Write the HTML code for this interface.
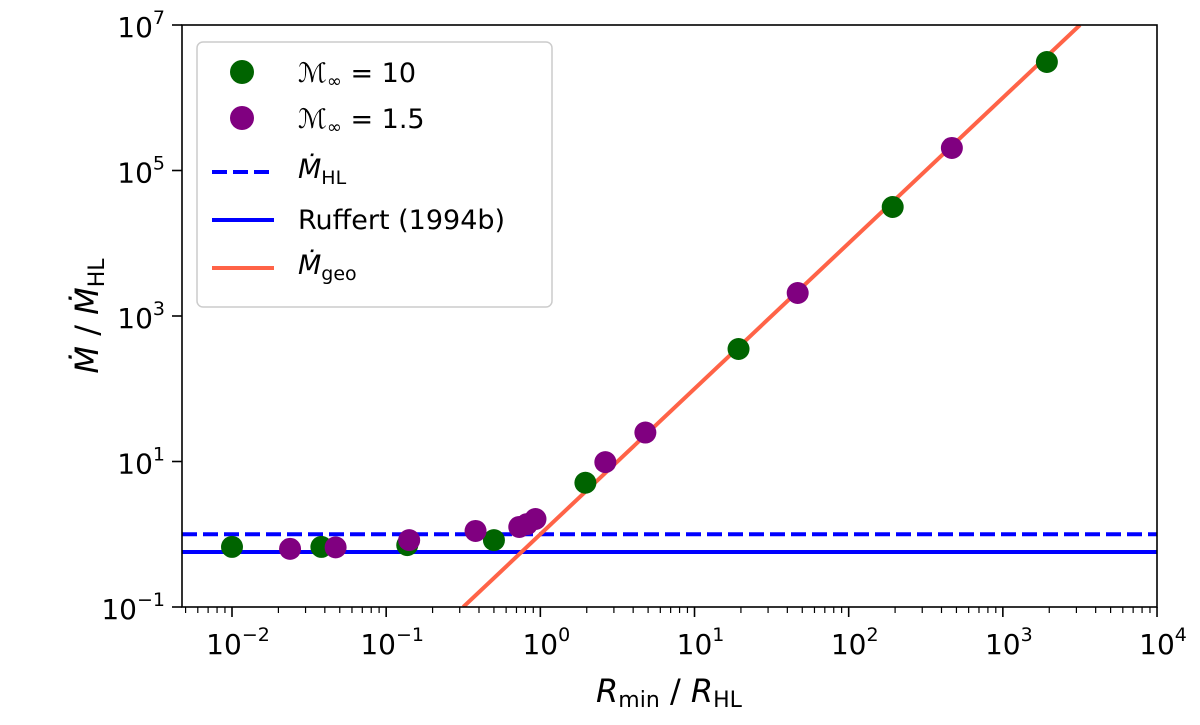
<!DOCTYPE html>
<html><head><meta charset="utf-8"><style>
html,body{margin:0;padding:0;background:#fff;width:1200px;height:725px;overflow:hidden;}
svg{display:block;}
svg text{font-family:"DejaVu Sans","Liberation Sans",sans-serif;fill:#000;}
</style></head><body>
<svg id="chart" width="1200" height="725" xmlns="http://www.w3.org/2000/svg">
<defs><clipPath id="clip"><rect x="182" y="25" width="975" height="582"/></clipPath></defs>
<g id="marks" clip-path="url(#clip)"></g>
<rect x="182" y="25" width="975" height="582" fill="none" stroke="#000" stroke-width="1.6"/>
<g id="axes"></g>
<text x="669" y="702" font-size="32" text-anchor="middle"><tspan font-style="italic">R</tspan><tspan font-size="22" dy="5">min</tspan><tspan dy="-5"> / </tspan><tspan font-style="italic">R</tspan><tspan font-size="22" dy="5">HL</tspan></text>
<text transform="translate(98,316) rotate(-90)" font-size="32" text-anchor="middle"><tspan font-style="italic">Ṁ</tspan><tspan> / </tspan><tspan font-style="italic">Ṁ</tspan><tspan font-size="22" dy="6">HL</tspan></text>
<g>
<rect x="197" y="42" width="355" height="265" rx="6" fill="#fff" fill-opacity="0.85" stroke="#ccc" stroke-width="1.5"/>
<circle cx="242" cy="72" r="12" fill="#006400"/>
<text x="298" y="82" font-size="27"><tspan font-style="italic">ℳ</tspan><tspan font-size="18" dy="5">∞</tspan><tspan dy="-5"> = 10</tspan></text>
<circle cx="242" cy="118" r="12" fill="#800080"/>
<text x="298" y="128" font-size="27"><tspan font-style="italic">ℳ</tspan><tspan font-size="18" dy="5">∞</tspan><tspan dy="-5"> = 1.5</tspan></text>
<line x1="212" y1="172" x2="274" y2="172" stroke="#0000ff" stroke-width="4" stroke-dasharray="15,6"/>
<text x="298" y="178" font-size="27"><tspan font-style="italic">Ṁ</tspan><tspan font-size="19" dy="6">HL</tspan></text>
<line x1="212" y1="220" x2="274" y2="220" stroke="#0000ff" stroke-width="4"/>
<text x="298" y="229" font-size="27">Ruffert (1994b)</text>
<line x1="212" y1="268" x2="274" y2="268" stroke="#ff6347" stroke-width="4"/>
<text x="298" y="274" font-size="27"><tspan font-style="italic">Ṁ</tspan><tspan font-size="19" dy="6">geo</tspan></text>
</g>
</svg>
<script>
const greenX=[0.01,0.038,0.137,0.5,1.96,19.3,193,1930];
const greenY=[0.67,0.67,0.71,0.83,5.1,352,31500,3.1e6];
const purpleX=[0.0238,0.047,0.141,0.38,0.73,0.82,0.93,2.64,4.8,46.7,467];
const purpleY=[0.63,0.66,0.83,1.11,1.26,1.38,1.62,9.8,25,2070,204000];
const hlValue=[1.0];
const ruffertValue=[0.57];
const geoCoef=[1.0];
const geoSlope=[2];
const xTickExp=[-2,-1,0,1,2,3,4];
const yTickExp=[-1,1,3,5,7];
const NS='http://www.w3.org/2000/svg';
const X0=232,XD=154.17,Y0=607,YD=72.75;
const sx=v=>X0+(Math.log10(v)+2)*XD;
const sy=v=>Y0-(Math.log10(v)+1)*YD;
function mk(t,a,p){const e=document.createElementNS(NS,t);for(const k in a)e.setAttribute(k,a[k]);p.appendChild(e);return e;}
const marks=document.getElementById('marks'),axes=document.getElementById('axes');
let l=mk('line',{x1:182,x2:1157,y1:sy(hlValue[0]),y2:sy(hlValue[0]),stroke:'#0000ff','stroke-width':4,'stroke-dasharray':'15,6'},marks);


l=mk('line',{x1:182,x2:1157,y1:sy(ruffertValue[0]),y2:sy(ruffertValue[0]),stroke:'#0000ff','stroke-width':4},marks);


const yLo=0.1,yHi=1e7;
const xa=Math.pow(yLo/geoCoef[0],1/geoSlope[0]),xb=Math.pow(yHi/geoCoef[0],1/geoSlope[0]);
l=mk('line',{x1:sx(xa),y1:sy(geoCoef[0]*Math.pow(xa,geoSlope[0])),x2:sx(xb),y2:sy(geoCoef[0]*Math.pow(xb,geoSlope[0])),stroke:'#ff6347','stroke-width':4},marks);


greenX.forEach((x,i)=>{const c=mk('circle',{cx:sx(x),cy:sy(greenY[i]),r:11,fill:'#006400'},marks);

});
purpleX.forEach((x,i)=>{const c=mk('circle',{cx:sx(x),cy:sy(purpleY[i]),r:11,fill:'#800080'},marks);

});
xTickExp.forEach(e=>{const px=X0+(e+2)*XD;
mk('line',{x1:px,x2:px,y1:607,y2:617,stroke:'#000','stroke-width':1.6},axes);
const t=mk('text',{x:px+6,y:654,'font-size':28,'text-anchor':'middle'},axes);


t.innerHTML='10<tspan font-size="19" dy="-13">'+(e<0?'−'+(-e):e)+'</tspan>';
for(let m=2;m<10&&e<4;m++){const q=px+Math.log10(m)*XD;mk('line',{x1:q,x2:q,y1:607,y2:613,stroke:'#000','stroke-width':1.2},axes);}
if(e==-2){for(let m=5;m<10;m++){const q=px+Math.log10(m/10)*XD;if(q>=182)mk('line',{x1:q,x2:q,y1:607,y2:613,stroke:'#000','stroke-width':1.2},axes);}}
});
yTickExp.forEach(e=>{const py=Y0-(e+1)*YD;
mk('line',{x1:172,x2:182,y1:py,y2:py,stroke:'#000','stroke-width':1.6},axes);
const t=mk('text',{x:165,y:py+12,'font-size':28,'text-anchor':'end'},axes);


t.innerHTML='10<tspan font-size="19" dy="-13">'+(e<0?'−'+(-e):e)+'</tspan>';
});
</script>
</body></html>
